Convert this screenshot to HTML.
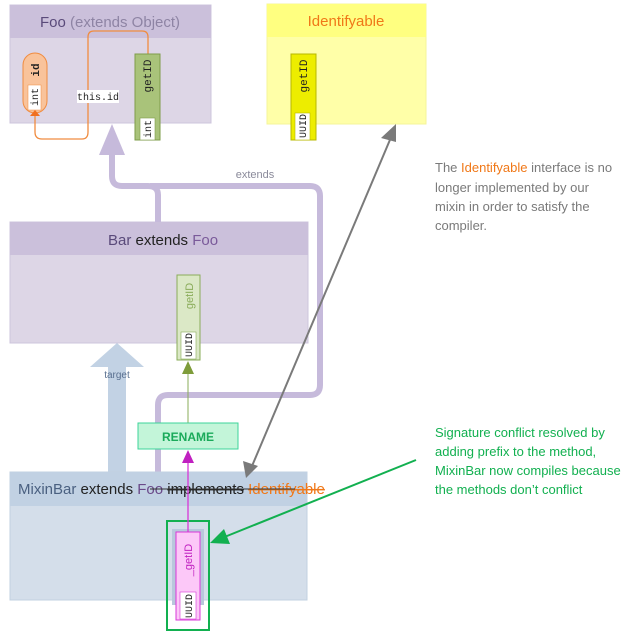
<!DOCTYPE html>
<html><head><meta charset="utf-8"><style>
body{margin:0;background:#fff}
svg{display:block;font-family:"Liberation Sans",sans-serif}
.m{font-family:"Liberation Mono",monospace}
</style></head><body>
<svg width="640" height="640" viewBox="0 0 640 640">
<!-- Foo -->
<rect x="10" y="5" width="201" height="118" fill="#ddd6e6" stroke="#cdc5dc"/>
<rect x="10" y="5" width="201" height="33" fill="#cbc0db"/>
<text x="110" y="27" font-size="15" text-anchor="middle" fill="#5a4a7a">Foo <tspan fill="#8e84a4">(extends Object)</tspan></text>
<!-- Identifyable -->
<rect x="267" y="4" width="159" height="120" fill="#ffffa8" stroke="#f4f49a"/>
<rect x="267" y="4" width="159" height="33" fill="#ffff80"/>
<text x="346" y="26" font-size="15" text-anchor="middle" fill="#f07818">Identifyable</text>
<!-- Bar -->
<rect x="10" y="222" width="298" height="121" fill="#ddd6e6" stroke="#cdc5dc"/>
<rect x="10" y="222" width="298" height="33" fill="#cbc0db"/>
<text x="108" y="245" font-size="15" fill="#222"><tspan fill="#5a4a7a">Bar</tspan> extends <tspan fill="#7a5a9a">Foo</tspan></text>
<!-- extends connectors -->
<g fill="none" stroke="#c6badb" stroke-width="6">
<path d="M158 222 V195 Q158 186 148 186 H122 Q112 186 112 176 V150"/>
<path d="M158 472 V405 Q158 395 168 395 H310 Q320 395 320 385 V196 Q320 186 310 186 H150"/>
</g>
<polygon points="112,124 99,155 125,155" fill="#c6badb"/>
<text x="255" y="178" font-size="11" fill="#8a8a9a" text-anchor="middle">extends</text>
<!-- target arrow -->
<rect x="108" y="366" width="18" height="106" fill="#c2d2e4"/>
<polygon points="117,343 90,367 144,367" fill="#c2d2e4"/>
<text x="117" y="378" font-size="10" fill="#5a7090" text-anchor="middle">target</text>
<!-- MixinBar -->
<rect x="10" y="472" width="297" height="128" fill="#d4deea" stroke="#c2d0e0"/>
<rect x="10" y="472" width="297" height="34" fill="#c1d1e3"/>
<text x="18" y="494" font-size="15" fill="#222"><tspan fill="#4a6080">MixinBar</tspan> extends <tspan fill="#6a4a8a">Foo</tspan> <tspan text-decoration="line-through">implements</tspan> <tspan fill="#f07818" text-decoration="line-through">Identifyable</tspan></text>
<line x1="150" y1="489" x2="295" y2="489" stroke="#333" stroke-width="1"/>
<!-- Foo internals -->
<path d="M35 115 V132 Q35 139 42 139 H82 Q88 139 88 132 V37 Q88 31 94 31 H142 Q148 31 148 37 V54" fill="none" stroke="#f08c40" stroke-width="1.3"/>
<rect x="23" y="53" width="24" height="60" rx="12" fill="#f9c39b" stroke="#f08c40"/>
<rect x="28" y="85" width="13" height="25" fill="#fff" stroke="#f08c40" stroke-width=".5"/>
<text transform="translate(39,70) rotate(-90)" font-size="11" text-anchor="middle" class="m" font-weight="bold" fill="#222">id</text>
<text transform="translate(38,97) rotate(-90)" font-size="10" text-anchor="middle" class="m" fill="#222">int</text>
<polygon points="35,110 30,116 40,116" fill="#f07020"/>
<rect x="77" y="90" width="42" height="13" fill="#fff"/>
<text x="98" y="100" font-size="10" class="m" text-anchor="middle" fill="#222">this.id</text>
<rect x="135" y="54" width="25" height="86" fill="#a9c37a" stroke="#7e9c4a"/>
<text transform="translate(151,76) rotate(-90)" font-size="11" class="m" text-anchor="middle" fill="#222">getID</text>
<rect x="140" y="118" width="15" height="22" fill="#fff" stroke="#7e9c4a" stroke-width=".6"/>
<text transform="translate(151,129) rotate(-90)" font-size="10" class="m" text-anchor="middle" fill="#222">int</text>
<!-- Identifyable getID -->
<rect x="291" y="54" width="25" height="86" fill="#eded00" stroke="#b8b800"/>
<text transform="translate(307,76) rotate(-90)" font-size="11" class="m" text-anchor="middle" fill="#222">getID</text>
<rect x="295" y="113" width="15" height="27" fill="#fff" stroke="#b8b800" stroke-width=".6"/>
<text transform="translate(306,126) rotate(-90)" font-size="10" class="m" text-anchor="middle" fill="#222">UUID</text>
<!-- Bar getID -->
<rect x="177" y="275" width="23" height="85" fill="#dbe8c6" stroke="#8aac5a"/>
<text transform="translate(193,296) rotate(-90)" font-size="11" text-anchor="middle" fill="#8aac5a">getID</text>
<rect x="181" y="332" width="15" height="27" fill="#fff" stroke="#8aac5a" stroke-width=".6"/>
<text transform="translate(192,345) rotate(-90)" font-size="10" class="m" text-anchor="middle" fill="#222">UUID</text>
<!-- RENAME -->
<line x1="188" y1="423" x2="188" y2="372" stroke="#8aac5a" stroke-width="1"/>
<polygon points="188,361 182,374 194,374" fill="#7e9c3a"/>
<rect x="138" y="423" width="100" height="26" fill="#c3f5d9" stroke="#3ed49a"/>
<text x="188" y="441" font-size="12" font-weight="bold" text-anchor="middle" fill="#1aaa5a">RENAME</text>
<!-- _getID -->
<rect x="167" y="521" width="42" height="109" fill="none" stroke="#12b050" stroke-width="2"/>
<rect x="172" y="529" width="32" height="76" fill="#b8c8dc"/>
<rect x="176" y="532" width="24" height="88" fill="#fcc8f8" stroke="#d838d8"/>
<text transform="translate(192,560) rotate(-90)" font-size="11" text-anchor="middle" fill="#c020c0">_getID</text>
<rect x="180" y="592" width="16" height="27" fill="#fff" stroke="#d838d8" stroke-width=".6"/>
<text transform="translate(192,606) rotate(-90)" font-size="10" class="m" text-anchor="middle" fill="#222">UUID</text>
<line x1="188" y1="532" x2="188" y2="462" stroke="#d838d8" stroke-width="1.3"/>
<polygon points="188,450 182,463 194,463" fill="#c020c0"/>
<!-- gray arrow -->
<line x1="392" y1="135" x2="252" y2="466" stroke="#7a7a7a" stroke-width="2"/>
<polygon points="396,124 381,138 396,142" fill="#7a7a7a"/>
<polygon points="246,478 243,461 258,466" fill="#7a7a7a"/>
<!-- green arrow -->
<line x1="416" y1="460" x2="222" y2="538" stroke="#12b050" stroke-width="2"/>
<polygon points="210,543 224,529 230,544" fill="#12b050"/>
<!-- notes -->
<g font-size="13" fill="#7a7a7a">
<text x="435" y="172">The <tspan fill="#f07818">Identifyable</tspan> interface is no</text>
<text x="435" y="192">longer implemented by our</text>
<text x="435" y="211">mixin in order to satisfy the</text>
<text x="435" y="230">compiler.</text>
</g>
<g font-size="13" fill="#12b050">
<text x="435" y="437">Signature conflict resolved by</text>
<text x="435" y="456">adding prefix to the method,</text>
<text x="435" y="475">MixinBar now compiles because</text>
<text x="435" y="494">the methods don’t conflict</text>
</g>
</svg>
</body></html>
